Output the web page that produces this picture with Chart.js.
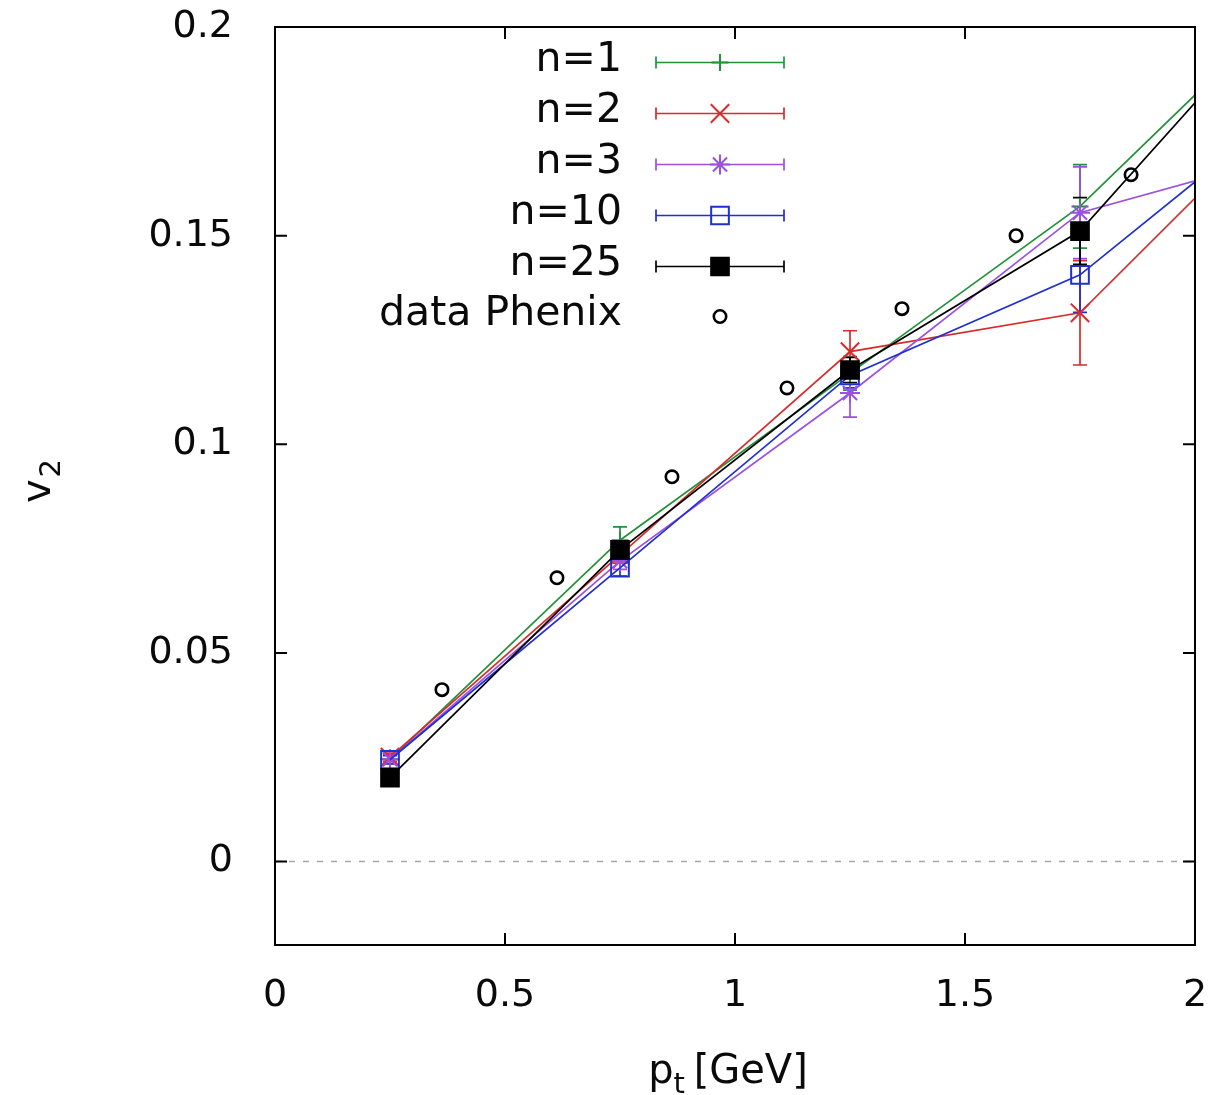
<!DOCTYPE html>
<html>
<head>
<meta charset="utf-8">
<script src="https://cdn.jsdelivr.net/npm/chart.js@4/dist/chart.umd.min.js"></script>
<style>
  html, body { margin: 0; padding: 0; background: #ffffff; }
  #wrap { width: 1231px; height: 1095px; }
</style>
</head>
<body>
<div id="wrap"><canvas id="c" width="1231" height="1095"></canvas></div>
<script>
// ---- data ----
const pt = [0.25, 0.75, 1.25, 1.75, 2.25];
const v2_n1  = [0.0245, 0.0770, 0.1170, 0.1570, 0.2104];
const err_n1 = [0.0010, 0.0032, 0.0040, 0.0100, null];
const v2_n2  = [0.0250, 0.0735, 0.1222, 0.1315, 0.1865];
const err_n2 = [0.0010, 0.0020, 0.0050, 0.0125, null];
const v2_n3  = [0.0245, 0.0720, 0.1123, 0.1555, 0.1708];
const err_n3 = [0.0010, 0.0020, 0.0058, 0.0110, null];
const v2_n10  = [0.0244, 0.0704, 0.1165, 0.1406, 0.1852];
const err_n10 = [0.0010, 0.0020, 0.0030, 0.0090, null];
const v2_n25  = [0.0201, 0.0747, 0.1178, 0.1511, 0.2126];
const err_n25 = [0.0010, 0.0020, 0.0030, 0.0080, null];
const ptPhenix = [0.363, 0.613, 0.863, 1.113, 1.363, 1.611, 1.861];
const v2Phenix = [0.0412, 0.0680, 0.0922, 0.1135, 0.1325, 0.1500, 0.1646];

const seriesNames = ['n=1', 'n=2', 'n=3', 'n=10', 'n=25', 'data Phenix'];
const xTickValues = [0, 0.5, 1, 1.5, 2];
const xTickLabels = ['0', '0.5', '1', '1.5', '2'];
const yTickValues = [0, 0.05, 0.1, 0.15, 0.2];
const yTickLabels = ['0', '0.05', '0.1', '0.15', '0.2'];

// ---- styles ----
const FONT = '"DejaVu Sans", "Liberation Sans", sans-serif';
const TXT = '#0a0a0a';
const styles = [
  { color: '#23913a', pointStyle: 'cross',    radius: 8.5, fill: 'rgba(0,0,0,0)' },
  { color: '#d92b2b', pointStyle: 'crossRot', radius: 13,  fill: 'rgba(0,0,0,0)' },
  { color: '#9b4fe3', pointStyle: 'star',     radius: 10,  fill: 'rgba(0,0,0,0)' },
  { color: '#1f2fd0', pointStyle: 'rect',     radius: 12.5, fill: 'rgba(0,0,0,0)' },
  { color: '#000000', pointStyle: 'rect',     radius: 12.5, fill: '#000000' }
];
const values = [v2_n1, v2_n2, v2_n3, v2_n10, v2_n25];
const errors = [err_n1, err_n2, err_n3, err_n10, err_n25];

const datasets = values.map((vals, i) => ({
  label: seriesNames[i],
  data: pt.map((x, k) => ({ x: x, y: vals[k] })),
  errs: errors[i],
  borderColor: styles[i].color,
  backgroundColor: styles[i].fill,
  pointBackgroundColor: styles[i].fill,
  pointBorderColor: styles[i].color,
  pointStyle: styles[i].pointStyle,
  pointRadius: styles[i].radius,
  pointBorderWidth: 2,
  borderWidth: 1.7,
  showLine: true,
  tension: 0,
  order: 10 - i
}));
datasets.push({
  label: seriesNames[5],
  data: ptPhenix.map((x, k) => ({ x: x, y: v2Phenix[k] })),
  borderColor: '#000000',
  backgroundColor: 'rgba(0,0,0,0)',
  pointBackgroundColor: 'rgba(0,0,0,0)',
  pointBorderColor: '#000000',
  pointStyle: 'circle',
  pointRadius: 6.2,
  pointBorderWidth: 2.6,
  showLine: false,
  order: 1
});

// ---- plugins ----
const frame = {
  id: 'frame',
  beforeDatasetsDraw(chart) {
    const { ctx, chartArea: a, scales: { x, y } } = chart;
    ctx.save();
    ctx.beginPath();
    ctx.rect(a.left, a.top, a.right - a.left, a.bottom - a.top);
    ctx.clip();
    // dashed zero line
    const y0 = y.getPixelForValue(0);
    ctx.strokeStyle = '#a8a8a8';
    ctx.lineWidth = 1.5;
    ctx.setLineDash([6, 8]);
    ctx.beginPath();
    ctx.moveTo(a.left, y0);
    ctx.lineTo(a.right, y0);
    ctx.stroke();
    ctx.setLineDash([]);
    // error bars
    chart.data.datasets.forEach((ds) => {
      if (!ds.errs) return;
      ctx.strokeStyle = ds.borderColor;
      ctx.lineWidth = 1.7;
      ds.data.forEach((p, k) => {
        const e = ds.errs[k];
        if (e == null) return;
        const px = x.getPixelForValue(p.x);
        const yt = y.getPixelForValue(p.y + e);
        const yb = y.getPixelForValue(p.y - e);
        ctx.beginPath();
        ctx.moveTo(px, yt); ctx.lineTo(px, yb);
        ctx.moveTo(px - 7, yt); ctx.lineTo(px + 7, yt);
        ctx.moveTo(px - 7, yb); ctx.lineTo(px + 7, yb);
        ctx.stroke();
      });
    });
    ctx.restore();
  },
  afterDraw(chart) {
    const { ctx, chartArea: a, scales: { x, y } } = chart;
    ctx.save();
    // border
    ctx.strokeStyle = '#000000';
    ctx.lineWidth = 2;
    ctx.strokeRect(a.left, a.top, a.right - a.left, a.bottom - a.top);
    // inward ticks
    const tl = 12;
    ctx.beginPath();
    xTickValues.forEach(v => {
      const px = x.getPixelForValue(v);
      ctx.moveTo(px, a.bottom); ctx.lineTo(px, a.bottom - tl);
      ctx.moveTo(px, a.top); ctx.lineTo(px, a.top + tl);
    });
    yTickValues.forEach(v => {
      const py = y.getPixelForValue(v);
      ctx.moveTo(a.left, py); ctx.lineTo(a.left + tl, py);
      ctx.moveTo(a.right, py); ctx.lineTo(a.right - tl, py);
    });
    ctx.stroke();

    // axis titles with subscripts
    ctx.fillStyle = TXT;
    ctx.textBaseline = 'alphabetic';
    const big = '40px ' + FONT, small = '29px ' + FONT;
    // x title: p_t [GeV]
    ctx.font = big; const wp = ctx.measureText('p').width;
    ctx.font = small; const wt = ctx.measureText('t').width;
    ctx.font = big; const wr = ctx.measureText(' [GeV]').width;
    const total = wp + wt + wr;
    let sx = (a.left + a.right) / 2 - total / 2 - 5;
    const by = 1083;
    ctx.textAlign = 'left';
    ctx.font = big; ctx.fillText('p', sx, by);
    ctx.font = small; ctx.fillText('t', sx + wp, by + 10);
    ctx.font = big; ctx.fillText(' [GeV]', sx + wp + wt - 4, by);
    // y title: v_2 (rotated)
    ctx.save();
    ctx.translate(50, 482);
    ctx.rotate(-Math.PI / 2);
    ctx.font = big; const wv = ctx.measureText('v').width;
    ctx.font = small; const w2 = ctx.measureText('2').width;
    const sy = -(wv + w2) / 2;
    ctx.font = big; ctx.fillText('v', sy, 0);
    ctx.font = small; ctx.fillText('2', sy + wv + 2, 10);
    ctx.restore();

    // legend
    const rows = [62.5, 113.5, 164.5, 215.5, 266.5, 316.5];
    const textRight = 622, lx0 = 656, lx1 = 784, mx = 720;
    chart.data.datasets.forEach((ds, i) => {
      const ry = rows[i];
      ctx.font = '41px ' + FONT;
      ctx.textAlign = 'right';
      ctx.textBaseline = 'middle';
      ctx.fillStyle = TXT;
      ctx.fillText(ds.label, textRight, ry - 2);
      if (i < 5) {
        ctx.strokeStyle = ds.borderColor;
        ctx.lineWidth = 1.7;
        ctx.beginPath();
        ctx.moveTo(lx0, ry); ctx.lineTo(lx1, ry);
        ctx.moveTo(lx0, ry - 6); ctx.lineTo(lx0, ry + 6);
        ctx.moveTo(lx1, ry - 6); ctx.lineTo(lx1, ry + 6);
        ctx.stroke();
      }
      ctx.strokeStyle = ds.pointBorderColor;
      ctx.fillStyle = ds.pointBackgroundColor;
      ctx.lineWidth = ds.pointBorderWidth;
      Chart.helpers.drawPoint(ctx, {
        pointStyle: ds.pointStyle, radius: ds.pointRadius, rotation: 0, borderWidth: ds.pointBorderWidth
      }, mx, ry);
    });
    ctx.restore();
  }
};

new Chart(document.getElementById('c'), {
  type: 'scatter',
  data: { datasets: datasets },
  options: {
    responsive: false,
    animation: false,
    devicePixelRatio: 1,
    layout: { padding: { top: 27, right: 36, left: 0, bottom: 0 } },
    plugins: { legend: { display: false }, tooltip: { enabled: false } },
    scales: {
      x: {
        type: 'linear', min: 0, max: 2,
        grid: { display: false, drawTicks: false },
        border: { display: false },
        afterBuildTicks: s => { s.ticks = xTickValues.map(v => ({ value: v })); },
        afterFit: s => { s.height = 150; s.paddingLeft = 0; s.paddingRight = 0; },
        ticks: {
          padding: 28, color: TXT, font: { family: FONT, size: 38 },
          maxRotation: 0, autoSkip: false,
          callback: (v) => { const k = xTickValues.indexOf(v); return k >= 0 ? xTickLabels[k] : ''; }
        }
      },
      y: {
        type: 'linear', min: -0.02, max: 0.2,
        grid: { display: false, drawTicks: false },
        border: { display: false },
        afterBuildTicks: s => { s.ticks = yTickValues.map(v => ({ value: v })); },
        afterFit: s => { s.width = 275; s.paddingTop = 0; s.paddingBottom = 0; },
        ticks: {
          padding: 42, color: TXT, font: { family: FONT, size: 38 },
          autoSkip: false,
          callback: (v) => { const k = yTickValues.indexOf(v); return k >= 0 ? yTickLabels[k] : ''; }
        }
      }
    }
  },
  plugins: [frame]
});
</script>
</body>
</html>
